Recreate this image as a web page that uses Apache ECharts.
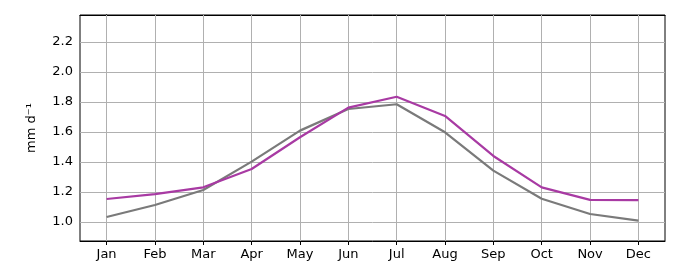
<!DOCTYPE html>
<html><head><meta charset="utf-8">
<script src="https://cdn.jsdelivr.net/npm/echarts@6/dist/echarts.min.js"></script>
<style>html,body{margin:0;padding:0;background:#fff}#c{width:680px;height:280px}</style>
</head><body><div id="c"></div>
<script>
const months = ['Jan','Feb','Mar','Apr','May','Jun','Jul','Aug','Sep','Oct','Nov','Dec'];
const grayValues = [1.033,1.113,1.213,1.402,1.609,1.753,1.785,1.598,1.342,1.155,1.053,1.009];
const magentaValues = [1.153,1.185,1.231,1.353,1.565,1.762,1.835,1.707,1.440,1.231,1.147,1.145];
const yTicks = [1.0,1.2,1.4,1.6,1.8,2.0,2.2];
const yLabel = 'mm d\u207B\u00B9';

const monthIdx = months.map((m,i)=>i);
const font = 'DejaVu Sans';
const chart = echarts.init(document.getElementById('c'), null, {renderer:'canvas'});
const frameAxis = {show:true, lineStyle:{color:'#000', width:1}};
chart.setOption({
  animation:false,
  grid:{left:80, right:15, top:15, bottom:39, show:true, borderColor:'#000', borderWidth:1, backgroundColor:'transparent'},
  xAxis:[{
    type:'value', min:-0.55, max:11.55,
    axisLine:frameAxis,
    axisTick:{show:true, customValues:monthIdx, length:4, lineStyle:{color:'#000'}},
    axisLabel:{customValues:monthIdx, formatter:v=>months[Math.round(v)], color:'#000', fontFamily:font, fontSize:13, margin:7},
    splitLine:{show:false}
  },{
    type:'value', min:-0.55, max:11.55, position:'top',
    axisLine:frameAxis, axisTick:{show:false}, axisLabel:{show:false}, splitLine:{show:false}
  }],
  yAxis:[{
    type:'value', min:0.873, max:2.38,
    name:yLabel, nameLocation:'middle', nameGap:42, nameRotate:90,
    nameTextStyle:{color:'#000', fontFamily:font, fontSize:13},
    axisLine:frameAxis,
    axisTick:{show:true, customValues:yTicks, length:4, lineStyle:{color:'#000'}},
    axisLabel:{customValues:yTicks, formatter:v=>v.toFixed(1), color:'#000', fontFamily:font, fontSize:13, margin:7},
    splitLine:{show:false}
  },{
    type:'value', min:0.873, max:2.38, position:'right',
    axisLine:frameAxis, axisTick:{show:false}, axisLabel:{show:false}, splitLine:{show:false}
  }],
  series:[
    {type:'line', data:grayValues.map((v,i)=>[i,v]), symbol:'none', lineStyle:{color:'#7a7a7a', width:2.2}, z:3,
     markLine:{silent:true, symbol:'none', label:{show:false}, lineStyle:{color:'#b0b0b0', width:1, type:'solid'},
       data: monthIdx.map(i=>({xAxis:i})).concat(yTicks.map(v=>({yAxis:v}))), z:1}},
    {type:'line', data:magentaValues.map((v,i)=>[i,v]), symbol:'none', lineStyle:{color:'#a83aa3', width:2.2}, z:4}
  ]
});
</script></body></html>
